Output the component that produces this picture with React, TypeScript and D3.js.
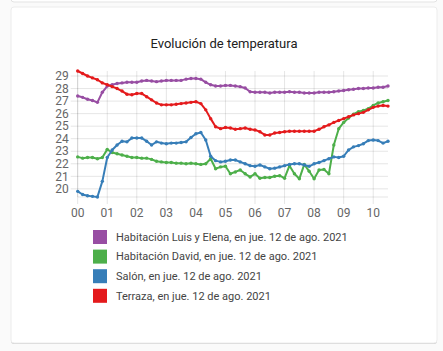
import React from 'react';
import * as d3 from 'd3';

// readings every 10 minutes from 00:00 to 10:30
const START = new Date(2021, 7, 12, 0, 0);
const STEP_MIN = 10;

const luisElena = [
  27.4, 27.3, 27.15, 27.05, 26.9, 27.7, 28.2, 28.3, 28.4, 28.45, 28.5, 28.5,
  28.5, 28.6, 28.65, 28.6, 28.55, 28.6, 28.65, 28.65, 28.65, 28.65, 28.75, 28.8,
  28.8, 28.75, 28.5, 28.3, 28.2, 28.2, 28.25, 28.25, 28.2, 28.15, 28.05, 27.75,
  27.7, 27.7, 27.7, 27.65, 27.7, 27.7, 27.7, 27.75, 27.7, 27.7, 27.65, 27.65,
  27.65, 27.7, 27.7, 27.7, 27.75, 27.8, 27.85, 27.9, 27.95, 28.0, 28.0, 28.05,
  28.05, 28.1, 28.1, 28.2,
];

const david = [
  22.55, 22.45, 22.5, 22.5, 22.4, 22.5, 23.15, 22.9, 22.8, 22.7, 22.6, 22.5,
  22.5, 22.45, 22.45, 22.35, 22.2, 22.15, 22.1, 22.1, 22.05, 22.05, 22.0, 22.05,
  22.0, 21.95, 22.0, 22.4, 21.6, 21.75, 21.8, 21.2, 21.35, 21.5, 21.2, 20.95,
  21.2, 20.85, 20.9, 20.9, 21.0, 21.05, 20.85, 21.85, 21.2, 20.8, 21.95, 21.4,
  20.8, 21.5, 21.55, 21.2, 23.5, 24.8, 25.3, 25.65, 25.95, 26.15, 26.25, 26.4,
  26.65, 26.85, 26.95, 27.05,
];

const salon = [
  19.8, 19.55, 19.45, 19.4, 19.35, 20.6, 22.5, 23.1, 23.5, 23.8, 23.75, 24.05,
  24.05, 24.05, 23.8, 23.5, 23.75, 23.65, 23.6, 23.65, 23.65, 23.7, 23.75, 24.1,
  24.4, 24.5, 23.9, 22.6, 22.25, 22.15, 22.2, 22.3, 22.3, 22.15, 22.0, 21.85,
  21.8, 21.9, 21.75, 21.6, 21.65, 21.75, 21.85, 21.95, 22.0, 22.0, 21.9, 21.8,
  22.0, 22.1, 22.25, 22.4, 22.55, 22.5, 22.6, 23.1, 23.35, 23.45, 23.6, 23.85,
  23.9, 23.85, 23.65, 23.8,
];

const terraza = [
  29.4, 29.2, 29.0, 28.85, 28.7, 28.45, 28.3, 28.15, 28.0, 27.8, 27.55, 27.5,
  27.6, 27.6, 27.35, 27.1, 26.85, 26.7, 26.7, 26.7, 26.75, 26.8, 26.85, 26.9,
  26.95, 26.8, 26.3, 25.6, 24.95, 24.8, 24.9, 24.85, 24.75, 24.8, 24.85, 24.75,
  24.7, 24.55, 24.3, 24.3, 24.45, 24.5, 24.55, 24.6, 24.6, 24.6, 24.6, 24.6,
  24.6, 24.75, 24.95, 25.1, 25.3, 25.45, 25.6, 25.75, 25.9, 26.0, 26.1, 26.3,
  26.5, 26.6, 26.65, 26.6,
];

const seriesNames = [
  'Habitación Luis y Elena, en jue. 12 de ago. 2021',
  'Habitación David, en jue. 12 de ago. 2021',
  'Salón, en jue. 12 de ago. 2021',
  'Terraza, en jue. 12 de ago. 2021',
];
const seriesColors = ['#984ea3', '#4daf4a', '#377eb8', '#e41a1c'];
const seriesValues = [luisElena, david, salon, terraza];

const yTicks = [20, 21, 22, 23, 24, 25, 26, 27, 28, 29];

const W = 443;
const H = 351;
const FONT = 'Roboto, "Noto Sans", sans-serif';

type Pt = { t: Date; v: number };

export default function App() {
  const series: Pt[][] = seriesValues.map(vals =>
    vals.map((v, i) => ({ t: new Date(START.getTime() + i * STEP_MIN * 60000), v }))
  );
  const all = series.flat();

  const x = d3.scaleTime()
    .domain(d3.extent(all, d => d.t) as [Date, Date])
    .range([77.7, 388]);
  const y = d3.scaleLinear()
    .domain(d3.extent(all, d => d.v) as [number, number])
    .range([197, 71]);

  const xTicks = d3.timeHour.range(START, new Date(START.getTime() + 10.6 * 3600000));

  const line = d3.line<Pt>().x(d => x(d.t)).y(d => y(d.v));

  const [x0, x1] = x.range();
  const [yb, yt] = y.range();
  const grid = 'rgba(0,0,0,0.1)';

  return (
    <svg width={W} height={H} style={{ position: 'absolute', left: 0, top: 0 }} fontFamily={FONT}>
      <rect width={W} height={H} fill="#fafafa" />
      {/* edge of the card above */}
      <rect x={11} y={-10} width={426} height={12} rx={3} fill="#fff" stroke="#e3e3e3" />
      {/* card */}
      <rect x={11} y={8} width={426} height={336} rx={3} fill="#d0d0d0" />
      <rect x={11} y={7} width={426} height={336} rx={3} fill="#fff" stroke="#ececec" />

      <text x={224} y={48} textAnchor="middle" fontSize={13} fill="#212121">
        Evolución de temperatura
      </text>

      <g>
        {yTicks.map(v => (
          <g key={v}>
            <line x1={x0 - 7} x2={x1} y1={y(v)} y2={y(v)} stroke={grid} />
            <text x={x0 - 9} y={y(v)} dy="0.35em" textAnchor="end" fontSize={12} fill="#666">
              {v}
            </text>
          </g>
        ))}
        {xTicks.map(t => (
          <g key={+t}>
            <line x1={x(t)} x2={x(t)} y1={yt} y2={yb + 7} stroke={grid} />
            <text x={x(t)} y={yb + 20} textAnchor="middle" fontSize={12} fill="#666">
              {d3.timeFormat('%H')(t)}
            </text>
          </g>
        ))}
        <line x1={x0} x2={x0} y1={yt} y2={yb} stroke={grid} />
        <line x1={x0} x2={x1} y1={yb} y2={yb} stroke={grid} />
      </g>

      {series.map((s, i) => (
        <g key={i}>
          <path d={line(s) ?? ''} fill="none" stroke={seriesColors[i]} strokeWidth={2} strokeLinejoin="round" />
          {s.map((d, j) => (
            <circle key={j} cx={x(d.t)} cy={y(d.v)} r={1.7} fill={seriesColors[i]} />
          ))}
        </g>
      ))}

      {seriesNames.map((name, i) => (
        <g key={name} transform={`translate(93,${230 + i * 19.6})`}>
          <rect width={14} height={14} fill={seriesColors[i]} />
          <text x={23} y={7} dy="0.35em" fontSize={11} fill="#444">
            {name}
          </text>
        </g>
      ))}
    </svg>
  );
}
